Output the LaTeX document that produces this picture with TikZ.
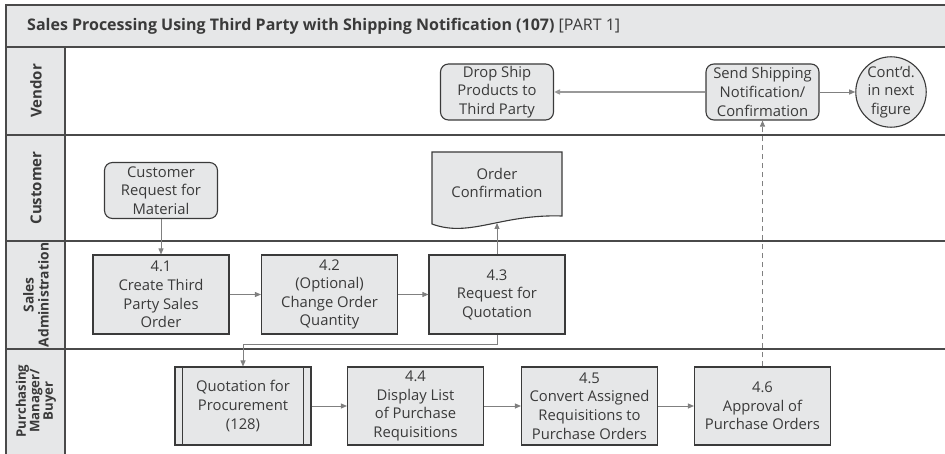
\documentclass[tikz,border=0pt]{standalone}
\usepackage{fontspec}
\setmainfont{Open Sans}
\usetikzlibrary{arrows.meta}

\definecolor{boxfill}{HTML}{E6E7E8}
\definecolor{edgec}{HTML}{3A3A3A}
\definecolor{framec}{HTML}{4A4A4A}
\definecolor{txtc}{HTML}{3A3A3A}
\definecolor{arrc}{HTML}{808080}

\newcommand\bxfont{\fontsize{14.8}{18.6}\selectfont}
\newcommand\ttlfont{\fontsize{16}{18}\selectfont}
\newcommand\lanebig{\fontsize{15}{17}\selectfont\bfseries}
\newcommand\lanesmall{\fontsize{13.8}{15}\selectfont\bfseries}
\newcommand\lanetight{\fontsize{13.2}{13.5}\selectfont\bfseries}

\begin{document}
\begin{tikzpicture}[x=1pt,y=-1pt,
  frameline/.style={draw=framec, line width=1.1pt},
  procbox/.style={draw=edgec, fill=boxfill, line width=1.1pt,
    minimum width=136pt, minimum height=79pt, inner sep=0pt,
    align=center, text=txtc, font=\bxfont},
  evbox/.style={procbox, rounded corners=8pt,
    minimum width=113pt, minimum height=56pt},
  lanelbl/.style={rotate=90, align=center, text=txtc},
  arr/.style={draw=arrc, line width=0.9pt, -{Triangle[length=6pt,width=5pt]}},
]
\useasboundingbox (0,0) rectangle (945,454);

% frame, title band and label column
\fill[boxfill] (6,5) rectangle (950,47);
\fill[boxfill] (6,47) rectangle (65,460);
\draw[frameline] (950,5) -- (6,5) -- (6,460);
\draw[frameline] (6,47) -- (950,47);
\draw[frameline] (6,135) -- (950,135);
\draw[frameline] (6,241) -- (950,241);
\draw[frameline] (6,349) -- (950,349);
\draw[frameline] (65,47) -- (65,460);

\node[anchor=west, font=\ttlfont, text=txtc, inner sep=0pt] (title) at (27,26)
  {\textbf{Sales Processing Using Third Party with Shipping Notification (107)} [PART 1]};

% lane labels
\node[lanelbl, font=\lanebig] (lv) at (36,91) {Vendor};
\node[lanelbl, font=\lanebig] (lc) at (36,188) {Customer};
\node[lanelbl, font=\lanesmall] (ls) at (36,295) {Sales\\Administration};
\node[lanelbl, font=\lanetight] (lp) at (36,401) {Purchasing\\Manager/\\Buyer};

% vendor lane
\node[evbox] (drop) at (497,92) {Drop Ship\\Products to\\Third Party};
\node[evbox] (send) at (762.5,92) {Send Shipping\\Notification/\\Confirmation};
\node[circle, draw=edgec, fill=boxfill, line width=1.1pt, minimum size=58pt,
  inner sep=0pt, align=center, text=txtc, font=\bxfont] (cont) at (891,92)
  {Cont'd.\\in next\\figure};

% customer lane
\node[evbox] (creq) at (161,190.5) {Customer\\Request for\\Material};
\draw[draw=edgec, fill=boxfill, line width=1.1pt]
  (432,152) -- (562,152) -- (562,216)
  .. controls (500,214) and (470,238) .. (432,224) -- cycle;
\node[font=\bxfont, text=txtc, align=center] (doc) at (497,183) {Order\\Confirmation};
\coordinate (docb) at (497,223);

% sales administration lane
\node[procbox] (n41) at (161,294.5) {4.1\\Create Third\\Party Sales\\Order};
\node[procbox] (n42) at (329.5,294.5) {4.2\\(Optional)\\Change Order\\Quantity};
\node[procbox] (n43) at (497,294.5) {4.3\\Request for\\Quotation};

% purchasing lane
\node[procbox, minimum height=78pt] (quot) at (243,406) {Quotation for\\Procurement\\(128)};
\draw[draw=edgec, line width=1.1pt]
  ([xshift=8pt]quot.north west) -- ([xshift=8pt]quot.south west)
  ([xshift=-8pt]quot.north east) -- ([xshift=-8pt]quot.south east);
\node[procbox, minimum height=78pt] (n44) at (415.5,406) {4.4\\Display List\\of Purchase\\Requisitions};
\node[procbox, minimum height=78pt] (n45) at (589.5,406) {4.5\\Convert Assigned\\Requisitions to\\Purchase Orders};
\node[procbox, minimum height=78pt] (n46) at (762.5,406) {4.6\\Approval of\\Purchase Orders};

% connectors
\draw[arr, line width=1.5pt, draw=arrc!80] (send.west) -- (drop.east);
\draw[arr] (send.east) -- (cont.west);
\draw[arr] (creq.south) -- (n41.north);
\draw[arr] (n41.east) -- (n42.west);
\draw[arr] (n42.east) -- (n43.west);
\draw[arr] (n43.north) -- (docb);
\draw[arr] (n43.south) -- ++(0,10) -| (quot.north);
\draw[arr] (quot.east) -- (n44.west);
\draw[arr] (n44.east) -- (n45.west);
\draw[arr] (n45.east) -- (n46.west);
\draw[arr, dash pattern=on 5pt off 4pt] (n46.north) -- (send.south);
\end{tikzpicture}
\end{document}
